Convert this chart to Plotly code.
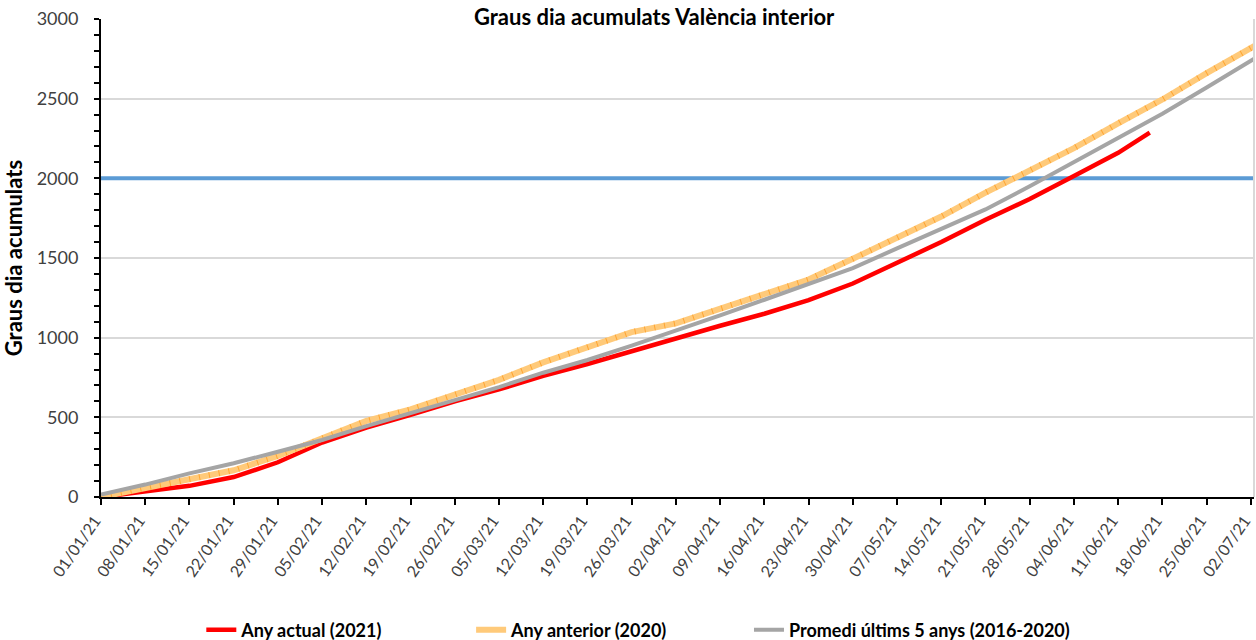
import plotly.graph_objects as go

# ---- data ----
week_dates = ["2021-01-01", "2021-01-08", "2021-01-15", "2021-01-22", "2021-01-29",
              "2021-02-05", "2021-02-12", "2021-02-19", "2021-02-26", "2021-03-05",
              "2021-03-12", "2021-03-19", "2021-03-26", "2021-04-02", "2021-04-09",
              "2021-04-16", "2021-04-23", "2021-04-30", "2021-05-07", "2021-05-14",
              "2021-05-21", "2021-05-28", "2021-06-04", "2021-06-11", "2021-06-18",
              "2021-06-25", "2021-07-02"]
tick_labels = ["01/01/21", "08/01/21", "15/01/21", "22/01/21", "29/01/21", "05/02/21",
               "12/02/21", "19/02/21", "26/02/21", "05/03/21", "12/03/21", "19/03/21",
               "26/03/21", "02/04/21", "09/04/21", "16/04/21", "23/04/21", "30/04/21",
               "07/05/21", "14/05/21", "21/05/21", "28/05/21", "04/06/21", "11/06/21",
               "18/06/21", "25/06/21", "02/07/21"]

dates_2021 = week_dates[:24] + ["2021-06-16"]
values_2021 = [0, 35, 70, 125, 218, 342, 435, 515, 600, 675, 760, 835, 915, 1000,
               1075, 1150, 1235, 1340, 1470, 1600, 1740, 1870, 2015, 2160, 2287]

dates_ext = week_dates + ["2021-07-03"]
values_2020 = [0, 55, 118, 168, 258, 370, 478, 550, 640, 735, 845, 940, 1035, 1090,
               1180, 1270, 1365, 1495, 1630, 1760, 1910, 2050, 2190, 2345, 2495,
               2660, 2815, 2840]
values_avg = [15, 78, 148, 212, 284, 358, 445, 525, 605, 690, 780, 860, 950, 1043,
              1140, 1238, 1340, 1437, 1560, 1680, 1805, 1950, 2100, 2250, 2405,
              2570, 2735, 2762]

threshold = 2000
x_range = ["2021-01-01", "2021-07-02 12:00"]

FONT = "Lato"
TXT = "#404040"

fig = go.Figure()
# threshold line (drawn first so the series sit on top of it)
fig.add_trace(go.Scatter(x=x_range, y=[threshold, threshold], mode="lines",
                         showlegend=False, hoverinfo="skip",
                         line=dict(color="#5B9BD5", width=4)))
fig.add_trace(go.Scatter(x=dates_2021, y=values_2021, mode="lines",
                         name="Any actual (2021)", legend="legend",
                         line=dict(color="#FF0000", width=4.5)))
fig.add_trace(go.Scatter(x=dates_ext, y=values_2020, mode="lines",
                         name="Any anterior (2020)", legend="legend2",
                         line=dict(color="#FFCA7A", width=6)))
# hatch-like overlay on the 2020 series
fig.add_trace(go.Scatter(x=dates_ext, y=values_2020, mode="lines",
                         showlegend=False, hoverinfo="skip",
                         line=dict(color="rgba(255,150,20,0.7)", width=6,
                                   dash="1px,9px")))
fig.add_trace(go.Scatter(x=dates_ext, y=values_avg, mode="lines",
                         name="Promedi últims 5 anys (2016-2020)", legend="legend3",
                         line=dict(color="#A5A5A5", width=4)))

# right border of the chart area
fig.add_shape(type="line", xref="paper", x0=1, x1=1, yref="paper", y0=0, y1=1,
              line=dict(color="#D9D9D9", width=2), layer="above")

fig.add_annotation(text="Graus dia acumulats València interior",
                   xref="paper", yref="paper", x=0.48, y=1.0 + 18 / 478,
                   xanchor="center", yanchor="top", showarrow=False,
                   font=dict(family=FONT, size=22, color="#000000", weight="bold"))

leg_common = dict(orientation="h", xanchor="left", yanchor="middle",
                  yref="container", y=1 - 630 / 640,
                  font=dict(family=FONT, size=18, color="#000000", weight="bold"),
                  bgcolor="rgba(0,0,0,0)")

fig.update_layout(
    width=1256, height=640,
    margin=dict(l=101, r=2, t=19, b=143, autoexpand=False),
    paper_bgcolor="white", plot_bgcolor="white",
    font=dict(family=FONT, color=TXT),
    showlegend=True,
    legend=dict(x=0.087, **leg_common),
    legend2=dict(x=0.321, **leg_common),
    legend3=dict(x=0.562, **leg_common),
    xaxis=dict(type="date", range=x_range, automargin=False,
               tickmode="array", tickvals=week_dates, ticktext=tick_labels,
               tickangle=-55, tickfont=dict(family=FONT, size=16, color=TXT),
               ticklabeloverflow="allow", ticklabelshift=-6,
               showgrid=False, showline=True, linecolor="#000000", linewidth=2,
               ticks="outside", ticklen=6, tickwidth=2, tickcolor="#000000",
               zeroline=False),
    yaxis=dict(range=[0, 3000], tickvals=[0, 500, 1000, 1500, 2000, 2500, 3000],
               automargin=False,
               tickfont=dict(family=FONT, size=18, color=TXT), ticklabelstandoff=12,
               showgrid=True, gridcolor="#D9D9D9", gridwidth=1.5,
               showline=True, linecolor="#000000", linewidth=2,
               ticks="outside", ticklen=5, tickwidth=2, tickcolor="#000000",
               minor=dict(dtick=100, ticks="outside", ticklen=5, tickwidth=1.5,
                          tickcolor="#000000", showgrid=False),
               zeroline=False,
               title=dict(text="Graus dia acumulats", standoff=10,
                          font=dict(family=FONT, size=22, color="#000000", weight="bold"))),
)

fig.write_html("out.html", config={"displayModeBar": False},
               post_script="document.body.style.margin='0';"
                           "document.body.style.overflow='hidden';")
